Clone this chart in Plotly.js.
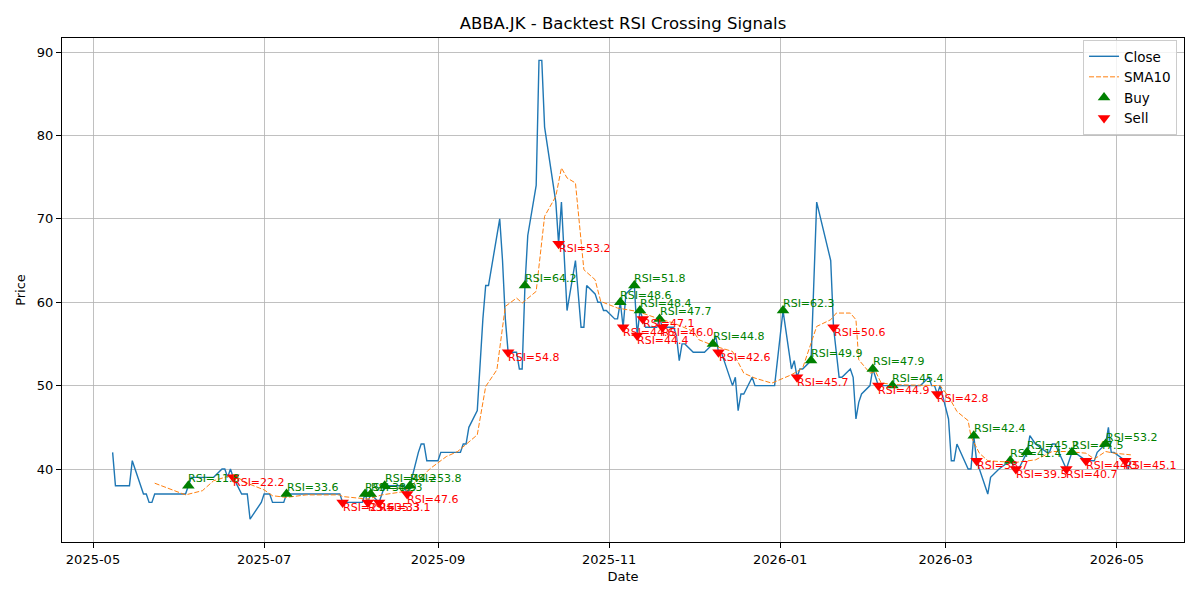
<!DOCTYPE html>
<html>
<head>
<meta charset="utf-8">
<script src="https://cdn.plot.ly/plotly-3.0.1.min.js"></script>
<style>
  body { margin: 0; background: #fff; }
  #plot { width: 1200px; height: 600px; }
</style>
</head>
<body>
<div id="plot"></div>
<script>
// close price (vertices of the line)
const closeDates = [
  '2025-05-08','2025-05-09','2025-05-14','2025-05-15','2025-05-19','2025-05-20','2025-05-21','2025-05-22','2025-05-23',
  '2025-06-03','2025-06-04','2025-06-05','2025-06-13','2025-06-16','2025-06-17','2025-06-18','2025-06-19','2025-06-20',
  '2025-06-23','2025-06-25','2025-06-26','2025-06-30','2025-07-01','2025-07-03','2025-07-04','2025-07-08','2025-07-09',
  '2025-07-28','2025-07-29','2025-08-05','2025-08-06','2025-08-07','2025-08-08','2025-08-11','2025-08-13','2025-08-20',
  '2025-08-21','2025-08-22','2025-08-25','2025-08-26','2025-08-27','2025-08-28','2025-09-01','2025-09-02','2025-09-09',
  '2025-09-10','2025-09-11','2025-09-12','2025-09-15','2025-09-16','2025-09-17','2025-09-18','2025-09-19','2025-09-23',
  '2025-09-24','2025-09-25','2025-09-26','2025-09-29','2025-09-30','2025-10-01','2025-10-02','2025-10-03','2025-10-06',
  '2025-10-07','2025-10-08','2025-10-09','2025-10-13','2025-10-14','2025-10-15','2025-10-17','2025-10-20','2025-10-22',
  '2025-10-23','2025-10-24','2025-10-27','2025-10-28','2025-10-29','2025-10-30','2025-10-31','2025-11-03','2025-11-04',
  '2025-11-05','2025-11-06','2025-11-07','2025-11-10','2025-11-11','2025-11-12','2025-11-13','2025-11-14','2025-11-18',
  '2025-11-19','2025-11-20','2025-11-24','2025-11-25','2025-11-26','2025-11-27','2025-11-28','2025-12-01','2025-12-05',
  '2025-12-08','2025-12-09','2025-12-10','2025-12-11','2025-12-12','2025-12-15','2025-12-16','2025-12-17','2025-12-18',
  '2025-12-19','2025-12-22','2025-12-23','2025-12-30','2026-01-02','2026-01-05','2026-01-06','2026-01-07','2026-01-08',
  '2026-01-09','2026-01-12','2026-01-14','2026-01-19','2026-01-20','2026-01-22','2026-01-23','2026-01-26','2026-01-27',
  '2026-01-28','2026-01-29','2026-01-30','2026-02-02','2026-02-03','2026-02-04','2026-02-05','2026-02-10','2026-02-20',
  '2026-02-23','2026-02-24','2026-02-25','2026-02-26','2026-02-27','2026-03-02','2026-03-03','2026-03-04','2026-03-05',
  '2026-03-09','2026-03-10','2026-03-11','2026-03-12','2026-03-16','2026-03-17','2026-03-20','2026-03-24','2026-03-26',
  '2026-03-27','2026-03-30','2026-03-31','2026-04-02','2026-04-06','2026-04-07','2026-04-08','2026-04-09','2026-04-13',
  '2026-04-14','2026-04-15','2026-04-16','2026-04-20','2026-04-23','2026-04-24','2026-04-27','2026-04-28','2026-04-29',
  '2026-04-30','2026-05-04','2026-05-05','2026-05-06'
];
const closeValues = [
  42,38,38,41,37,37,36,36,37,
  37,38,39,39,40,40,39,40,39,
  37,37,34,36,37,37,36,36,37,
  37,36,36,37,36,37,36,38,38,
  37,38,42,43,43,41,41,42,42,
  43,43,45,47,53,58,62,62,70,
  65,58,54,54,52,52,62,68,74,
  89,89,81,72,67,72,59,65,57,
  57,62,61,60,60,59,59,58,58,
  60,57,61,62,56,59,58,57,57,
  58,57,57,56,53,55,55,54,54,
  55,56,54,54,53,50,51,47,49,
  49,51,50,50,59,52,53,51,52,
  52,53,72,65,57,51,51,52,51,
  46,48,49,50,52,51,50,50,50,
  51,50,50,49,50,46,41,41,43,
  40,40,44,41,37,39,40,41,40,
  40,42,44,43,42,42,43,43,40,
  41,42,42,41,41,42,43,45,42,
  42,41,40,41
];

// 10-day moving average
const smaDates = [
  '2025-05-23','2025-06-03','2025-06-09','2025-06-13','2025-06-20','2025-06-25','2025-07-01','2025-07-04','2025-07-09',
  '2025-07-16','2025-07-28','2025-07-29','2025-08-07','2025-08-12','2025-08-20','2025-08-25','2025-08-27','2025-08-29',
  '2025-09-01','2025-09-04','2025-09-08','2025-09-15','2025-09-18','2025-09-22','2025-09-25','2025-09-29','2025-10-01',
  '2025-10-06','2025-10-09','2025-10-13','2025-10-15','2025-10-17','2025-10-20','2025-10-23','2025-10-27','2025-10-29',
  '2025-11-04','2025-11-11','2025-11-18','2025-11-24','2025-12-01','2025-12-03','2025-12-09','2025-12-15','2025-12-19',
  '2025-12-23','2025-12-29','2026-01-05','2026-01-09','2026-01-14','2026-01-19','2026-01-21','2026-01-26','2026-01-28',
  '2026-01-29','2026-02-02','2026-02-04','2026-02-06','2026-02-12','2026-02-24','2026-02-27','2026-03-02','2026-03-05',
  '2026-03-09','2026-03-10','2026-03-13','2026-03-16','2026-03-20','2026-03-26','2026-04-02','2026-04-08','2026-04-13',
  '2026-04-20','2026-04-23','2026-04-27','2026-04-30','2026-05-06'
];
const smaValues = [
  38.3,36.9,37.4,38.6,39.3,38.3,37.5,36.8,36.6,
  36.9,36.9,36.7,36.4,36.9,37.3,38.7,39.3,40.0,
  40.7,41.5,42.1,44.1,49.9,51.9,59.5,60.5,59.9,
  61.3,70.3,72.7,76.1,74.9,74.3,63.9,62.7,60.1,
  59.3,58.9,58.1,57.5,56.5,55.5,54.7,54.1,51.5,
  50.9,50.3,51.3,52.1,57.1,57.9,58.7,58.7,57.9,
  53.1,51.5,51.7,50.3,50.1,50.0,50.0,48.7,46.9,
  45.8,43.9,41.9,41.0,40.9,40.8,41.1,42.1,42.1,
  41.9,41.2,42.1,41.9,41.7
];

// RSI crossing signals
const buyDates = ['2025-06-04','2025-07-09','2025-08-06','2025-08-08','2025-08-13','2025-08-22','2025-10-02','2025-11-05',
  '2025-11-10','2025-11-12','2025-11-19','2025-12-08','2026-01-02','2026-01-12','2026-02-03','2026-02-10','2026-03-11',
  '2026-03-24','2026-03-30','2026-04-15','2026-04-27'];
const buyPrices = [38,37,37,37,38,38,62,60,62,59,58,55,59,53,52,50,44,41,42,42,43];
const buyRsi = [11.8,33.6,38.9,44.3,44.2,53.8,64.2,48.6,51.8,48.4,47.7,44.8,62.3,49.9,47.9,45.4,42.4,41.4,45.2,47.5,53.2];

const sellDates = ['2025-06-20','2025-07-29','2025-08-07','2025-08-11','2025-08-21','2025-09-26','2025-10-14','2025-11-06',
  '2025-11-11','2025-11-13','2025-11-20','2025-12-10','2026-01-07','2026-01-20','2026-02-05','2026-02-26','2026-03-12',
  '2026-03-26','2026-04-13','2026-04-20','2026-05-04'];
const sellPrices = [39,36,36,36,37,54,67,57,56,58,57,54,51,57,50,49,41,40,40,41,41];
const sellRsi = [22.2,25.6,35.3,33.1,47.6,54.8,53.2,44.6,44.4,47.1,46.0,42.6,45.7,50.6,44.9,42.8,38.7,39.5,40.7,44.3,45.1];

const font = 'DejaVu Sans, sans-serif';

const traces = [
  { x: closeDates, y: closeValues, type: 'scatter', mode: 'lines', name: 'Close',
    line: { color: '#1f77b4', width: 1.4 } },
  { x: smaDates, y: smaValues, type: 'scatter', mode: 'lines', name: 'SMA10',
    line: { color: '#ff7f0e', width: 1, dash: '5px,2px' } },
  { x: buyDates, y: buyPrices, type: 'scatter', mode: 'markers', name: 'Buy',
    marker: { symbol: 'triangle-up', size: 11, color: 'green' } },
  { x: sellDates, y: sellPrices, type: 'scatter', mode: 'markers', name: 'Sell',
    marker: { symbol: 'triangle-down', size: 11, color: 'red' } }
];

let annotations = [];
for (let i = 0; i < buyDates.length; i++) {
  annotations.push({
    x: buyDates[i], y: buyPrices[i], xref: 'x', yref: 'y',
    text: 'RSI=' + buyRsi[i].toFixed(1), showarrow: false,
    xanchor: 'left', yanchor: 'middle', xshift: -2, yshift: 7,
    font: { family: font, size: 11, color: 'green' }
  });
}
for (let i = 0; i < sellDates.length; i++) {
  annotations.push({
    x: sellDates[i], y: sellPrices[i], xref: 'x', yref: 'y',
    text: 'RSI=' + sellRsi[i].toFixed(1), showarrow: false,
    xanchor: 'left', yanchor: 'middle', xshift: -2, yshift: -5,
    font: { family: font, size: 11, color: 'red' }
  });
}

const layout = {
  width: 1200,
  height: 600,
  autosize: false,
  paper_bgcolor: '#ffffff',
  plot_bgcolor: '#ffffff',
  margin: { l: 62, r: 16, t: 38, b: 58 },
  font: { family: font, size: 13, color: '#000' },
  title: {
    text: 'ABBA.JK - Backtest RSI Crossing Signals',
    font: { family: font, size: 16.5, color: '#000' },
    xref: 'paper', x: 0.5, xanchor: 'center',
    yref: 'container', y: 0.962, yanchor: 'middle'
  },
  xaxis: {
    title: { text: 'Date', font: { family: font, size: 13 }, standoff: 6 },
    type: 'date',
    range: ['2025-04-19 22:48', '2026-05-24 22:50'],
    tick0: '2025-05-01', dtick: 'M2', tickformat: '%Y-%m',
    ticks: 'outside', ticklen: 5, tickcolor: '#000', tickwidth: 1,
    showline: true, linecolor: '#000', linewidth: 1, mirror: true,
    showgrid: true, gridcolor: '#b0b0b0', gridwidth: 0.8,
    zeroline: false
  },
  yaxis: {
    title: { text: 'Price', font: { family: font, size: 13 }, standoff: 8 },
    range: [31.25, 91.68],
    tick0: 40, dtick: 10,
    ticks: 'outside', ticklen: 5, tickcolor: '#000', tickwidth: 1,
    showline: true, linecolor: '#000', linewidth: 1, mirror: true,
    showgrid: true, gridcolor: '#b0b0b0', gridwidth: 0.8,
    zeroline: false
  },
  showlegend: true,
  legend: {
    x: 0.9938, y: 0.996, xanchor: 'right', yanchor: 'top',
    bgcolor: 'rgba(255,255,255,0.8)', bordercolor: '#cccccc', borderwidth: 1,
    font: { family: font, size: 13.5 },
    tracegroupgap: 0
  },
  annotations: annotations
};

Plotly.newPlot('plot', traces, layout, { displayModeBar: false, staticPlot: true });
</script>
</body>
</html>
